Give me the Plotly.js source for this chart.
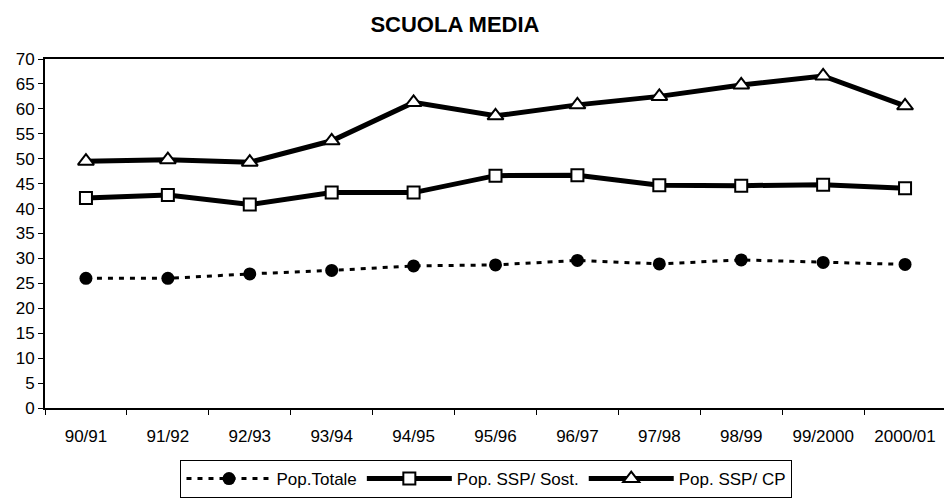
<!DOCTYPE html>
<html>
<head>
<meta charset="utf-8">
<script src="https://cdn.plot.ly/plotly-3.0.1.min.js"></script>
<style>html,body{margin:0;padding:0;overflow:hidden;background:#fff}</style>
</head>
<body>
<div id="chart" style="width:946px;height:498px"></div>
<script>
const categories = ["90/91","91/92","92/93","93/94","94/95","95/96","96/97","97/98","98/99","99/2000","2000/01"];
const popTotale = [26.0, 26.0, 26.9, 27.6, 28.5, 28.7, 29.6, 28.9, 29.7, 29.2, 28.8];
const popSSPSost = [42.1, 42.7, 40.8, 43.2, 43.2, 46.6, 46.7, 44.7, 44.6, 44.8, 44.1];
const popSSPCP = [49.5, 49.8, 49.3, 53.6, 61.3, 58.6, 60.8, 62.5, 64.8, 66.6, 60.6];
const seriesNames = ["Pop.Totale", "Pop. SSP/ Sost.", "Pop. SSP/ CP"];
const yTicks = [0,5,10,15,20,25,30,35,40,45,50,55,60,65,70];

const traces = [
  {x: categories, y: popTotale, name: seriesNames[0], type: "scatter", mode: "lines+markers",
   line: {color: "#000", width: 3, dash: "5px,6px"},
   marker: {symbol: "circle", size: 13, color: "#000"}},
  {x: categories, y: popSSPSost, name: seriesNames[1], type: "scatter", mode: "lines+markers",
   line: {color: "#000", width: 5},
   marker: {symbol: "square", size: 12, color: "#fff", line: {color: "#000", width: 2}}},
  {x: categories, y: popSSPCP, name: seriesNames[2], type: "scatter", mode: "lines+markers",
   line: {color: "#000", width: 5},
   marker: {symbol: "triangle-up", size: 14, color: "#fff", line: {color: "#000", width: 2}}}
];

const layout = {
  width: 946, height: 498,
  margin: {l: 45, r: 0, t: 59, b: 90},
  paper_bgcolor: "#fff", plot_bgcolor: "#fff",
  font: {family: "Liberation Sans, Arial, sans-serif", size: 17, color: "#000"},
  title: {text: "<b>SCUOLA MEDIA</b>", font: {size: 22, family: "Liberation Sans, Arial, sans-serif", color: "#000"},
          xref: "paper", x: 0.455, xanchor: "center", yref: "container", y: 0.951, yanchor: "middle"},
  showlegend: true,
  legend: {orientation: "h", x: 0.49, xanchor: "center", y: -0.15, yanchor: "top",
           bordercolor: "#000", borderwidth: 1, font: {size: 17}, itemwidth: 85,
           tracegroupgap: 0},
  xaxis: {type: "category", range: [-0.5, 10.5], showgrid: false, zeroline: false,
          showline: true, linecolor: "#000", linewidth: 2, mirror: true,
          ticks: "outside", tickson: "boundaries", ticklen: 5, tickcolor: "#000", tickwidth: 1,
          ticklabelstandoff: 12, tickfont: {size: 17}},
  yaxis: {range: [0, 70], tickvals: yTicks, showgrid: false, zeroline: false,
          showline: true, linecolor: "#000", linewidth: 2,
          ticks: "outside", ticklen: 5, tickcolor: "#000", tickwidth: 1, tickfont: {size: 17}}
};

Plotly.newPlot("chart", traces, layout, {displayModeBar: false, staticPlot: true});
</script>
</body>
</html>
